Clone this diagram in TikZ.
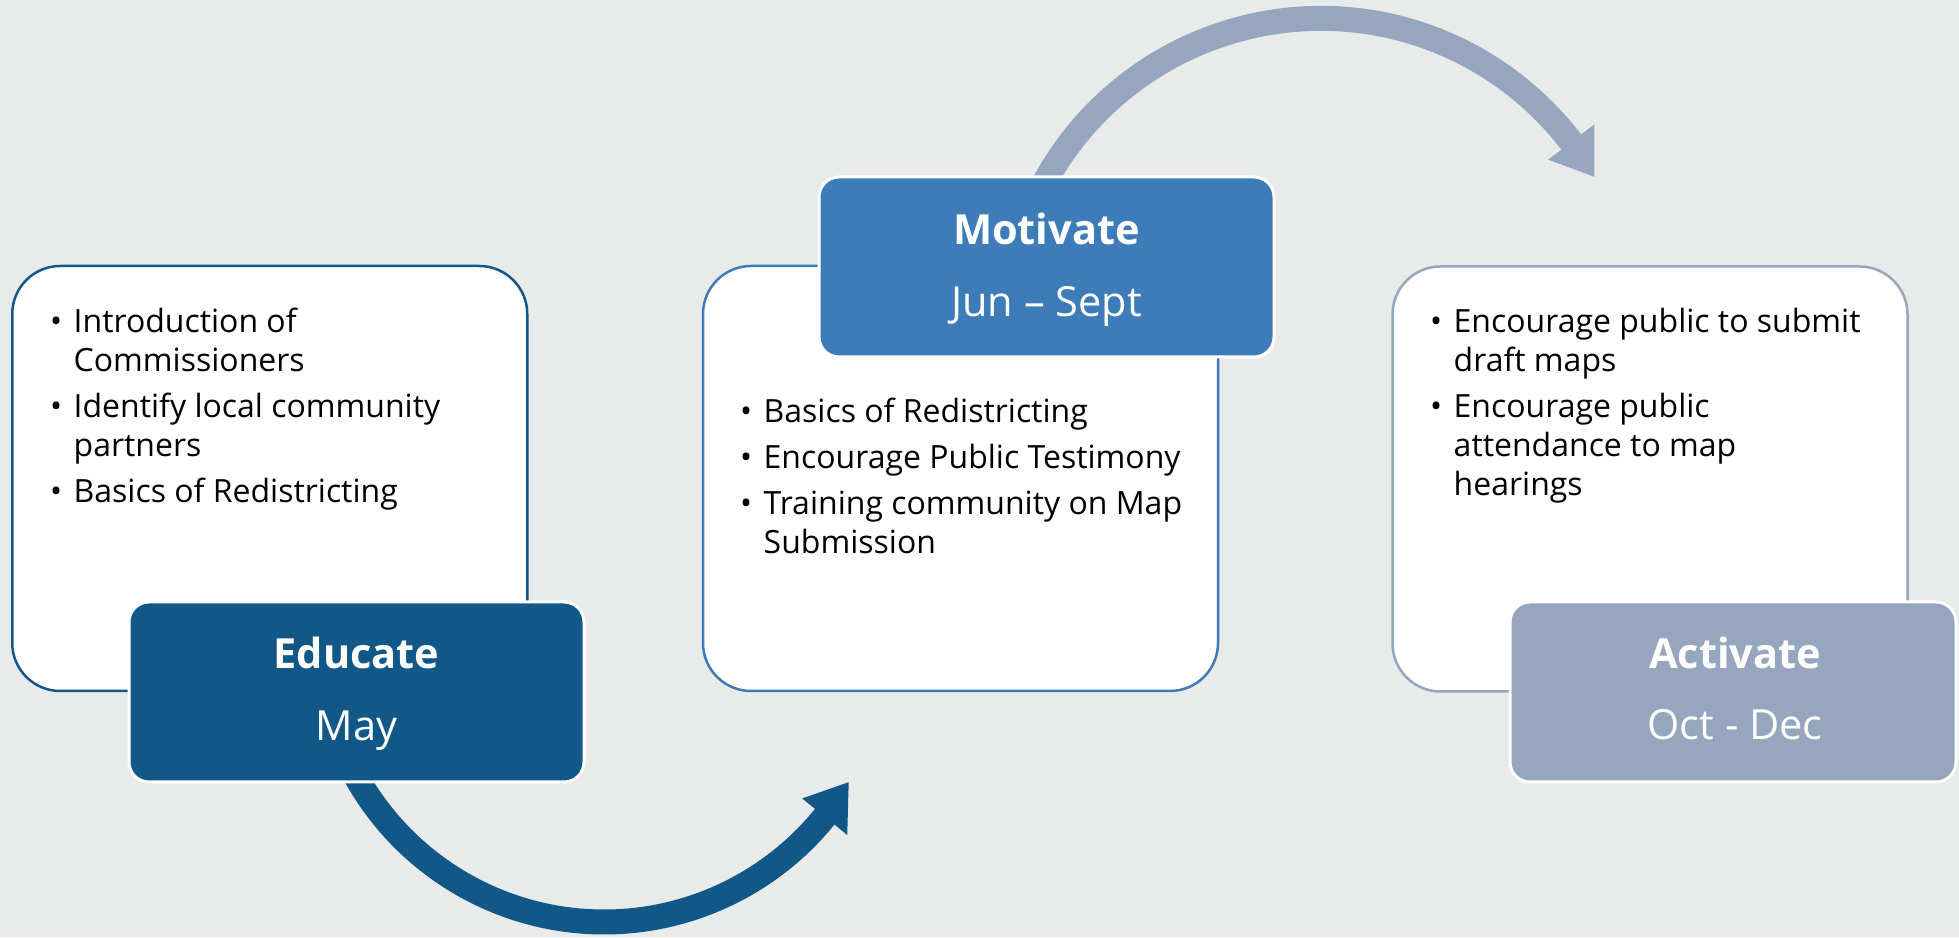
\documentclass[tikz,border=0pt]{standalone}
\usepackage{fontspec}
\setmainfont{Open Sans}
\definecolor{bg}{HTML}{E9EBEA}
\definecolor{edu}{HTML}{115888}
\definecolor{mot}{HTML}{3D7CB9}
\definecolor{act}{HTML}{96A6BF}
\newcommand\bodyfont{\fontsize{32pt}{39pt}\selectfont}
\newcommand\bul[1]{\par\hangindent=23.5pt\hangafter=1\noindent\makebox[23.5pt][l]{\textbullet}#1}
\tikzset{
  card/.style={draw=#1, fill=white, line width=2.5pt, rounded corners=48pt,
    minimum width=515pt, minimum height=425pt, inner sep=0pt},
  phase/.style={fill=#1, draw=white, line width=3pt, rounded corners=20pt,
    minimum width=455pt, minimum height=180pt, inner sep=0pt},
  body/.style={anchor=base west, inner sep=0pt, text=black, font=\bodyfont},
  ttl/.style={anchor=base, inner sep=0pt, text=white, font=\fontsize{41.5pt}{50pt}\selectfont\bfseries},
  mon/.style={anchor=base, inner sep=0pt, text=white, font=\fontsize{41.5pt}{50pt}\selectfont},
  band/.style={line width=25pt, draw=#1},
}
\begin{document}
\begin{tikzpicture}[x=1pt,y=1pt]
\fill[bg] (0,0) rectangle (1959,937);
\useasboundingbox (0,0) rectangle (1959,937);

% arrow 1 (Educate -> Motivate)
\coordinate (c1) at (604,299);
\coordinate (a1s) at ([shift={(209:284)}]c1);
\coordinate (a1e) at ([shift={(329.5:284)}]c1);
\draw[band=edu] (a1s) arc[start angle=209, end angle=322, radius=284];
\fill[edu] ([shift={(321:255)}]c1) -- (a1e) -- ([shift={(321:313)}]c1) -- cycle;

% arrow 2 (Motivate -> Activate)
\coordinate (c2) at (1321,603.6);
\coordinate (a2s) at ([shift={(153:315)}]c2);
\coordinate (a2e) at ([shift={(29.8:315)}]c2);
\draw[band=act] (a2s) arc[start angle=153, end angle=36.5, radius=315];
\fill[act] ([shift={(37.4:286)}]c2) -- (a2e) -- ([shift={(37.4:344)}]c2) -- cycle;

% cards
\node[card=edu] (card1) at (269.75,458.5) {};
\node[card=mot] (card2) at (960.5,458.5) {};
\node[card=act] (card3) at (1650,458) {};

% phase boxes
\node[phase=edu] (educate) at (356.5,245) {};
\node[phase=mot] (motivate) at (1046.5,670) {};
\node[phase=act, minimum width=446pt] (activate) at (1733,245) {};

% titles
\node[ttl] (educate-t) at (356.5,268) {Educate};
\node[mon] (educate-m) at (356.5,196) {May};
\node[ttl] (motivate-t) at (1046.5,692) {Motivate};
\node[mon] (motivate-m) at (1046.5,620) {Jun – Sept};
\node[ttl] (activate-t) at (1735,268) {Activate};
\node[mon] (activate-m) at (1735,197) {Oct - Dec};

% lists
\node[body] (list1) at (50,604) {\parbox[t]{470pt}{\bodyfont\setlength{\parskip}{7pt}%
  \bul{Introduction of\\Commissioners}%
  \bul{Identify local community\\partners}%
  \bul{Basics of Redistricting}}};
\node[body] (list2) at (740,514) {\parbox[t]{470pt}{\bodyfont\setlength{\parskip}{7pt}%
  \bul{Basics of Redistricting}%
  \bul{Encourage Public Testimony}%
  \bul{Training community on Map\\Submission}}};
\node[body] (list3) at (1430,604) {\parbox[t]{470pt}{\bodyfont\setlength{\parskip}{7pt}%
  \bul{Encourage public to submit\\draft maps}%
  \bul{Encourage public\\attendance to map\\hearings}}};
\end{tikzpicture}
\end{document}
